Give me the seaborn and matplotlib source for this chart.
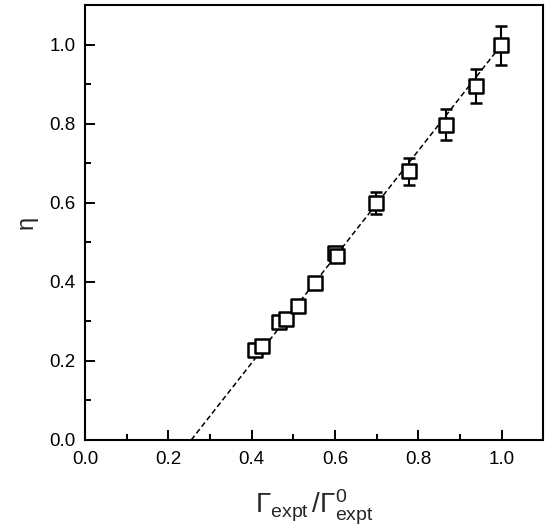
import numpy as np
import pandas as pd
import seaborn as sns
import matplotlib
matplotlib.use("Agg")
import matplotlib.pyplot as plt
from matplotlib.ticker import MultipleLocator

# data
gamma_ratio = [0.409, 0.426, 0.466, 0.482, 0.511, 0.551, 0.600, 0.606, 0.699, 0.777, 0.867, 0.939, 0.998]
eta = [0.227, 0.237, 0.298, 0.307, 0.338, 0.397, 0.472, 0.466, 0.599, 0.679, 0.797, 0.895, 0.998]
eta_err = [0.008, 0.008, 0.008, 0.008, 0.008, 0.008, 0.012, 0.012, 0.028, 0.033, 0.039, 0.044, 0.049]

# linear fit drawn as dashed line
fit_x = [0.255, 1.0]
fit_slope = 1.342
fit_intercept = -0.342

df = pd.DataFrame({"x": gamma_ratio, "eta": eta, "err": eta_err})
fit = pd.DataFrame({"x": fit_x})
fit["y"] = fit_slope * fit["x"] + fit_intercept

sns.set_theme(style="ticks")
plt.rcParams["font.family"] = ["Liberation Sans", "DejaVu Sans"]
plt.rcParams["mathtext.fontset"] = "custom"
plt.rcParams["mathtext.rm"] = "Liberation Sans"
plt.rcParams["mathtext.it"] = "Liberation Sans:italic"

fig = plt.figure(figsize=(5.46, 5.27), dpi=100)
ax = fig.add_axes([85 / 546, 87 / 527, 458.3 / 546, 435 / 527])

sns.lineplot(data=fit, x="x", y="y", ax=ax, color="black", lw=1.1,
             dashes=False, linestyle=(0, (3.5, 2.0)), zorder=2)
ax.errorbar(df["x"], df["eta"], yerr=df["err"], fmt="none", ecolor="black",
            elinewidth=1.5, capsize=4.5, capthick=1.8, zorder=3)
sns.scatterplot(data=df, x="x", y="eta", ax=ax, marker="s", s=90,
                facecolor="white", edgecolor="black", linewidth=1.8, zorder=4)

ax.set_xlim(0, 1.1)
ax.set_ylim(0, 1.1)
ax.xaxis.set_minor_locator(MultipleLocator(0.1))
ax.yaxis.set_minor_locator(MultipleLocator(0.1))
ax.set_xticks([0, 0.2, 0.4, 0.6, 0.8, 1.0])
ax.set_yticks([0, 0.2, 0.4, 0.6, 0.8, 1.0])
ax.set_xticklabels(["0.0", "0.2", "0.4", "0.6", "0.8", "1.0"])
ax.set_yticklabels(["0.0", "0.2", "0.4", "0.6", "0.8", "1.0"])

ax.tick_params(which="both", direction="in", top=False, right=False,
               width=1.4, labelsize=13.5, colors="black")
ax.tick_params(which="major", length=7)
ax.tick_params(which="minor", length=4.5)
ax.tick_params(axis="x", pad=8)
ax.tick_params(axis="y", pad=7)
for sp in ax.spines.values():
    sp.set_visible(True)
    sp.set_linewidth(1.5)
    sp.set_color("black")

ax.set_xlabel(r"$\Gamma_{\rm expt}\,/\Gamma^{0}_{\rm expt}$", fontsize=20, labelpad=14)
ax.set_ylabel("η", fontsize=17, labelpad=8)

fig.savefig("out.png", dpi=100)
